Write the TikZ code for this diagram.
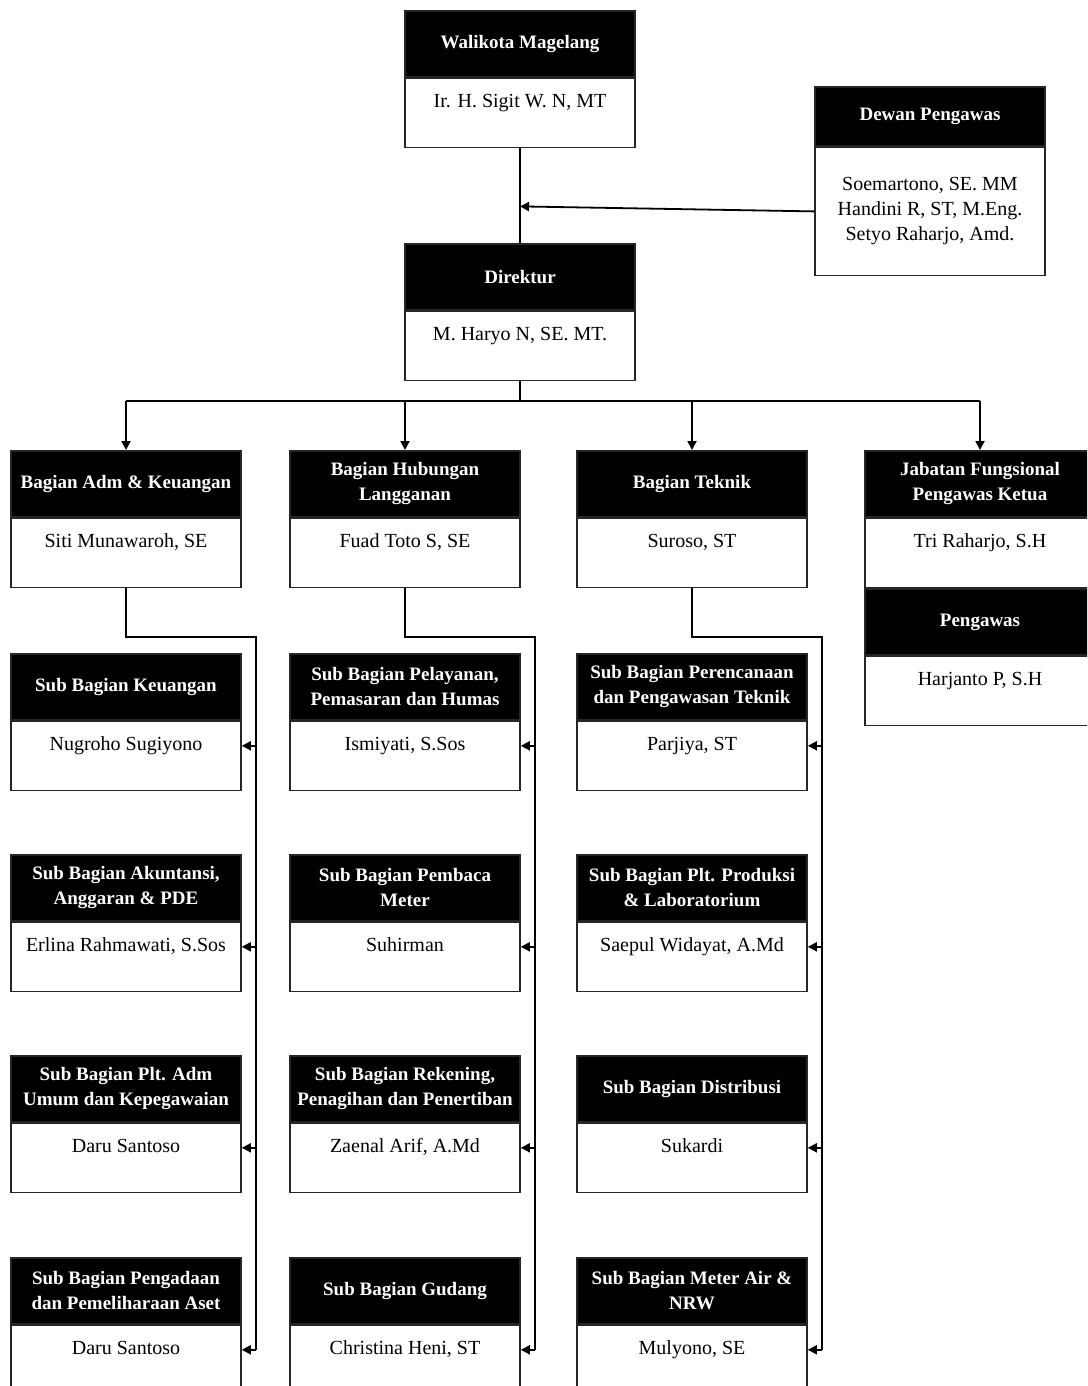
\documentclass[tikz,border=0pt]{standalone}
\usepackage{fontspec}
\setmainfont{Liberation Serif}
\usetikzlibrary{positioning,arrows.meta}

\newcommand{\hdrfont}{\fontsize{9.5}{12.5}\selectfont\bfseries}
\newcommand{\bdyfont}{\fontsize{10}{12.5}\selectfont}

\begin{document}
\begin{tikzpicture}[x=0.5pt,y=-0.5pt,
    hdr/.style={draw=black!85, line width=0.8pt, fill=black, text=white, font=\hdrfont,
        align=center, minimum width=115pt, minimum height=33pt, inner sep=1pt, anchor=north},
    box/.style={draw=black!85, line width=0.8pt, fill=white, font=\bdyfont,
        align=center, minimum width=115pt},
    bdy/.style={box, inner ysep=0pt, text height=14.5pt, text depth=20pt},
    line/.style={line width=0.9pt},
    arr/.style={line, -{Triangle[length=4.5pt,width=4.5pt]}}]
    \useasboundingbox (0,0) rectangle (1087,1386);
    \clip (0,0) rectangle (1087,1386);

    % Pimpinan
    \node[hdr] (hwk) at (520,10) {Walikota Magelang};
    \node[bdy, below=0pt of hwk] (bwk) {Ir. H. Sigit W. N, MT};
    \node[hdr] (hdir) at (520,243) {Direktur};
    \node[bdy, below=0pt of hdir] (bdir) {M. Haryo N, SE. MT.};
    \node[hdr, minimum height=29.5pt] (hdw) at (930,86) {Dewan Pengawas};
    \node[box, minimum height=64pt, below=0pt of hdw] (bdw)
        {Soemartono, SE. MM\\Handini R, ST, M.Eng.\\Setyo Raharjo, Amd.};

    % Bagian
    \node[hdr] (hadm) at (126,450) {Bagian Adm \& Keuangan};
    \node[bdy, below=0pt of hadm] (badm) {Siti Munawaroh, SE};
    \node[hdr] (hhub) at (405,450) {Bagian Hubungan\\Langganan};
    \node[bdy, below=0pt of hhub] (bhub) {Fuad Toto S, SE};
    \node[hdr] (htek) at (692,450) {Bagian Teknik};
    \node[bdy, below=0pt of htek] (btek) {Suroso, ST};
    \node[hdr] (hjab) at (980,450) {Jabatan Fungsional\\Pengawas Ketua};
    \node[bdy, below=0pt of hjab] (bjab) {Tri Raharjo, S.H};
    \node[hdr, below=0pt of bjab] (hpgw) {Pengawas};
    \node[bdy, below=0pt of hpgw] (bpgw) {Harjanto P, S.H};

    % Sub bagian kolom 1
    \node[hdr] (hkeu) at (126,653) {Sub Bagian Keuangan};
    \node[bdy, below=0pt of hkeu] (bkeu) {Nugroho Sugiyono};
    \node[hdr] (hakt) at (126,854) {Sub Bagian Akuntansi,\\Anggaran \& PDE};
    \node[bdy, below=0pt of hakt] (bakt) {Erlina Rahmawati, S.Sos};
    \node[hdr] (humum) at (126,1055) {Sub Bagian Plt. Adm\\Umum dan Kepegawaian};
    \node[bdy, below=0pt of humum] (bumum) {Daru Santoso};
    \node[hdr] (haset) at (126,1257) {Sub Bagian Pengadaan\\dan Pemeliharaan Aset};
    \node[bdy, below=0pt of haset] (baset) {Daru Santoso};

    % Sub bagian kolom 2
    \node[hdr] (hpel) at (405,653) {Sub Bagian Pelayanan,\\Pemasaran dan Humas};
    \node[bdy, below=0pt of hpel] (bpel) {Ismiyati, S.Sos};
    \node[hdr] (hbaca) at (405,854) {Sub Bagian Pembaca\\Meter};
    \node[bdy, below=0pt of hbaca] (bbaca) {Suhirman};
    \node[hdr] (hrek) at (405,1055) {Sub Bagian Rekening,\\Penagihan dan Penertiban};
    \node[bdy, below=0pt of hrek] (brek) {Zaenal Arif, A.Md};
    \node[hdr] (hgdg) at (405,1257) {Sub Bagian Gudang};
    \node[bdy, below=0pt of hgdg] (bgdg) {Christina Heni, ST};

    % Sub bagian kolom 3
    \node[hdr] (hren) at (692,653) {Sub Bagian Perencanaan\\dan Pengawasan Teknik};
    \node[bdy, below=0pt of hren] (bren) {Parjiya, ST};
    \node[hdr] (hprod) at (692,854) {Sub Bagian Plt. Produksi\\\& Laboratorium};
    \node[bdy, below=0pt of hprod] (bprod) {Saepul Widayat, A.Md};
    \node[hdr] (hdist) at (692,1055) {Sub Bagian Distribusi};
    \node[bdy, below=0pt of hdist] (bdist) {Sukardi};
    \node[hdr] (hmtr) at (692,1257) {Sub Bagian Meter Air \&\\NRW};
    \node[bdy, below=0pt of hmtr] (bmtr) {Mulyono, SE};

    % Garis pimpinan
    \draw[line] (bwk.south) -- (hdir.north);
    \draw[arr] (bdw.west) -- ([yshift=2.5pt]bdw.west -| bwk.south);
    \draw[line] (bdir.south) -- ++(0,20) coordinate (bus);
    \draw[line] (bus -| hadm.north) -- (bus -| hjab.north);
    \foreach \h in {hadm,hhub,htek,hjab}
        \draw[arr] (bus -| \h.north) -- (\h.north);

    % Garis sub bagian
    \coordinate (sp1) at (256,637);
    \coordinate (sp2) at (535,637);
    \coordinate (sp3) at (822,637);
    \draw[line] (badm.south) |- (sp1) -- (sp1 |- baset.mid east);
    \draw[line] (bhub.south) |- (sp2) -- (sp2 |- bgdg.mid east);
    \draw[line] (btek.south) |- (sp3) -- (sp3 |- bmtr.mid east);
    \foreach \s in {keu,akt,umum,aset}
        \draw[arr] (sp1 |- b\s.mid east) -- (b\s.mid east);
    \foreach \s in {pel,baca,rek,gdg}
        \draw[arr] (sp2 |- b\s.mid east) -- (b\s.mid east);
    \foreach \s in {ren,prod,dist,mtr}
        \draw[arr] (sp3 |- b\s.mid east) -- (b\s.mid east);
\end{tikzpicture}
\end{document}
